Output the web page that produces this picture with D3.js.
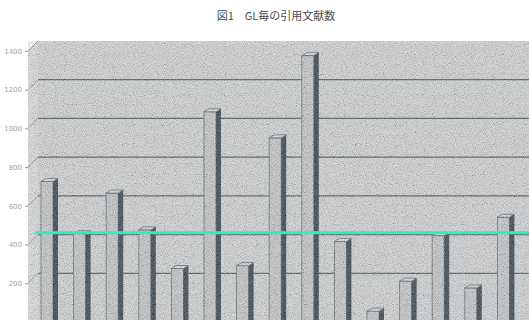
<!DOCTYPE html>
<html>
<head>
<meta charset="utf-8">
<script src="https://cdn.jsdelivr.net/npm/d3@7"></script>
<style>
  body { margin: 0; background: #fff; }
  svg { display: block; }
  .axis text { font-family: "DejaVu Sans", sans-serif; }
</style>
</head>
<body>
<svg id="chart"></svg>
<script>
// GL毎の引用文献数 (estimated)
var categories = ["GL1", "GL2", "GL3", "GL4", "GL5", "GL6", "GL7", "GL8",
                  "GL9", "GL10", "GL11", "GL12", "GL13", "GL14", "GL15"];
var counts = [690, 420, 630, 440, 240, 1050, 255, 915, 1340, 380, 20, 175, 410, 140, 505];
var yTicks = [200, 400, 600, 800, 1000, 1200, 1400];
var refValue = 410;
var title = "図1　GL毎の引用文献数";

(function () {
  var width = 529, height = 320;
  var wallLeft = 38, frontLeft = 28, depthY = 10;

  var svg = d3.select("#chart").attr("width", width).attr("height", height);

  // scan noise
  var defs = svg.append("defs");
  var f = defs.append("filter").attr("id", "noise")
      .attr("x", 0).attr("y", 0).attr("width", "100%").attr("height", "100%");
  f.append("feTurbulence").attr("type", "fractalNoise")
    .attr("baseFrequency", 1.1).attr("numOctaves", 1).attr("seed", 7);
  f.append("feColorMatrix").attr("type", "matrix")
    .attr("values", "2.2 0 0 0 -0.5  2.2 0 0 0 -0.5  2.2 0 0 0 -0.5  0 0 0 0 1");

  var y = d3.scaleLinear().domain([0, 1400]).range([312, 41]);
  var x = d3.scaleBand().domain(categories).range([30, 519]);

  // back wall + left wall
  svg.append("rect")
    .attr("x", wallLeft).attr("y", y(1400))
    .attr("width", width - wallLeft).attr("height", height - y(1400))
    .style("fill", "#cacccd");
  svg.append("polygon")
    .attr("points", [[frontLeft, y(1400) + depthY], [wallLeft, y(1400)], [wallLeft, height], [frontLeft, height]].join(" "))
    .style("fill", "#d4d5d6");

  // gridlines on back wall and left wall
  yTicks.forEach(function (v) {
    if (v < 1400) {
      svg.append("line")
        .attr("x1", wallLeft).attr("x2", width)
        .attr("y1", y(v)).attr("y2", y(v))
        .style("stroke", "#464b4f").style("stroke-width", 1.2);
    }
    svg.append("line")
      .attr("x1", frontLeft).attr("x2", wallLeft)
      .attr("y1", y(v) + depthY).attr("y2", y(v))
      .style("stroke", "#8a8e90").style("stroke-width", 1);
  });

  // y axis on the front plane
  var axis = svg.append("g")
    .attr("class", "axis")
    .attr("transform", "translate(" + frontLeft + "," + depthY + ")")
    .call(d3.axisLeft(y).tickValues(yTicks).tickFormat(d3.format("d")).tickSize(3));
  axis.select(".domain").remove();
  axis.selectAll("line").style("stroke", "#999");
  axis.selectAll("text").style("font-size", "7px").style("fill", "#a3a39a");

  // bars
  var fw = 12, sw = 5, tw = 3;
  var bars = svg.selectAll(".bar").data(counts).enter()
    .append("g").attr("class", "bar");

  bars.append("rect")
    .attr("x", function (d, i) { return x(categories[i]) + 11; })
    .attr("y", function (d) { return y(d) + tw; })
    .attr("width", fw)
    .attr("height", function (d) { return height - y(d); })
    .style("fill", "#bbbec0").style("stroke", "#5d6468").style("stroke-width", 0.9);

  bars.append("polygon")
    .attr("points", function (d, i) {
      var bx = x(categories[i]) + 11 + fw, t = y(d);
      return [[bx, t + tw], [bx + sw, t], [bx + sw, height + 5], [bx, height + 5]].join(" ");
    })
    .style("fill", "#25333e");

  bars.append("polygon")
    .attr("points", function (d, i) {
      var bx = x(categories[i]) + 11, t = y(d);
      return [[bx, t + tw], [bx + fw, t + tw], [bx + fw + sw, t], [bx + sw, t]].join(" ");
    })
    .style("fill", "#d6d8d9").style("stroke", "#4a5257").style("stroke-width", 0.8);

  // speckle texture over the plot
  svg.append("rect")
    .attr("x", frontLeft).attr("y", y(1400))
    .attr("width", width - frontLeft).attr("height", height - y(1400))
    .attr("filter", "url(#noise)")
    .style("opacity", 0.28);

  // reference line
  svg.append("line")
    .attr("x1", 35).attr("x2", width)
    .attr("y1", y(refValue)).attr("y2", y(refValue))
    .style("stroke", "#3ee6bd").style("stroke-width", 3);

  svg.append("text")
    .attr("x", 276).attr("y", 20)
    .attr("text-anchor", "middle")
    .style("font-family", "'Noto Sans CJK JP', sans-serif")
    .style("font-size", "11px")
    .style("fill", "#4d4d4d")
    .text(title);
})();
</script>
</body>
</html>
